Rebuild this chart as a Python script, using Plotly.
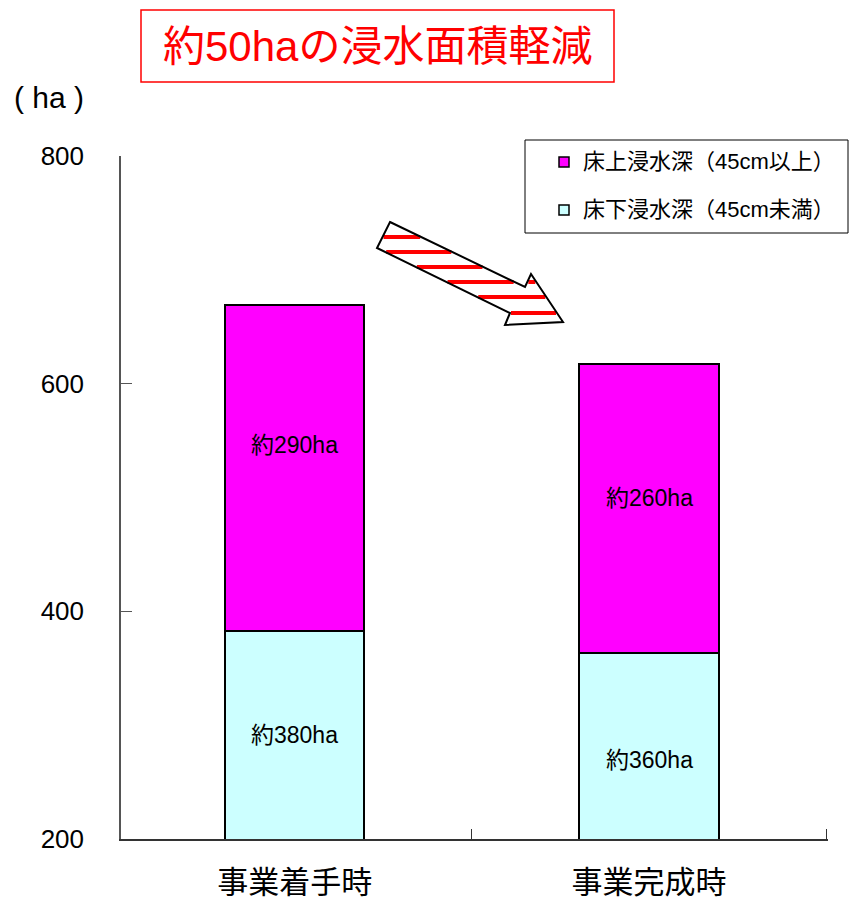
import plotly.graph_objects as go

# ---- data ----
categories = ["事業着手時", "事業完成時"]
lower_name = "床下浸水深（45cm未満）"
upper_name = "床上浸水深（45cm以上）"
lower_values = [383, 363]   # 床下浸水深
upper_values = [286, 254]   # 床上浸水深
lower_labels = ["約380ha", "約360ha"]
upper_labels = ["約290ha", "約260ha"]
y_ticks = [200, 400, 600, 800]
title_text = "約50haの浸水面積軽減"
unit_text = "( ha )"

# label nudges (pixels)
upper_label_shift = [23, 11]
lower_label_shift = [0, -14]

# ---- layout geometry (pixels) ----
W, H = 849, 902
ML, MR, MT, MB = 121, 21, 156, 63
PW, PH = W - ML - MR, H - MT - MB
Y0, Y1 = 200, 800


def px(x):
    return (x - ML) / PW


def py(y):
    return (H - MB - y) / PH


FONT = "Liberation Sans, Arial, Noto Sans CJK JP, sans-serif"
MAGENTA = "#FF00FF"
CYAN = "#CCFFFF"

fig = go.Figure()
fig.add_trace(go.Bar(
    x=categories, y=lower_values, name=lower_name, width=0.394,
    marker=dict(color=CYAN, line=dict(color="black", width=2)),
    showlegend=False, hoverinfo="skip",
))
fig.add_trace(go.Bar(
    x=categories, y=upper_values, name=upper_name, width=0.394,
    marker=dict(color=MAGENTA, line=dict(color="black", width=2)),
    showlegend=False, hoverinfo="skip",
))

shapes = []
annotations = []

# segment labels, centred in the visible part of each segment
for i, cat in enumerate(categories):
    lo, hi = max(Y0, 0), lower_values[i]
    annotations.append(dict(x=cat, y=(lo + hi) / 2, xref="x", yref="y",
                            text=lower_labels[i], showarrow=False,
                            yshift=lower_label_shift[i],
                            font=dict(size=23, color="black", family=FONT)))
    lo2, hi2 = lower_values[i], lower_values[i] + upper_values[i]
    annotations.append(dict(x=cat, y=(lo2 + hi2) / 2, xref="x", yref="y",
                            text=upper_labels[i], showarrow=False,
                            yshift=upper_label_shift[i],
                            font=dict(size=23, color="black", family=FONT)))

# title box
shapes.append(dict(type="rect", xref="paper", yref="paper",
                   x0=px(141), x1=px(614), y0=py(82), y1=py(10),
                   line=dict(color="red", width=1.5), fillcolor="white"))
annotations.append(dict(xref="paper", yref="paper", x=px(377), y=py(47),
                        text=title_text, showarrow=False,
                        font=dict(size=42, color="red", family=FONT),
                        xanchor="center", yanchor="middle"))

# unit label
annotations.append(dict(xref="paper", yref="paper", x=px(49), y=py(97),
                        text=unit_text, showarrow=False,
                        font=dict(size=30, color="black", family=FONT),
                        xanchor="center", yanchor="middle"))

# legend (manual)
shapes.append(dict(type="rect", xref="paper", yref="paper",
                   x0=px(525), x1=px(848), y0=py(233), y1=py(140),
                   line=dict(color="black", width=1), fillcolor="white"))
for yc, col, name in [(162, MAGENTA, upper_name), (210, CYAN, lower_name)]:
    shapes.append(dict(type="rect", xref="paper", yref="paper",
                       x0=px(559), x1=px(569), y0=py(yc + 5), y1=py(yc - 5),
                       line=dict(color="black", width=1.5), fillcolor=col))
    annotations.append(dict(xref="paper", yref="paper", x=px(581), y=py(yc),
                            text=name, showarrow=False,
                            font=dict(size=22, color="black", family=FONT),
                            xanchor="left", yanchor="middle"))

# decorative striped arrow
arrow = [(390, 222), (525, 287), (531, 274), (563, 322),
         (505, 325), (510, 313), (377, 248)]


def scan(yv):
    xs = []
    n = len(arrow)
    for i in range(n):
        (x1, y1), (x2, y2) = arrow[i], arrow[(i + 1) % n]
        if (y1 <= yv < y2) or (y2 <= yv < y1):
            xs.append(x1 + (yv - y1) * (x2 - x1) / (y2 - y1))
    xs.sort()
    return [(xs[i], xs[i + 1]) for i in range(0, len(xs) - 1, 2)]


path = "M " + " L ".join(f"{px(x)},{py(y)}" for x, y in arrow) + " Z"
shapes.append(dict(type="path", xref="paper", yref="paper", path=path,
                   fillcolor="white", line=dict(color="white", width=0)))
for yv in [237, 252, 267, 282, 297, 313]:
    for a, b in scan(yv):
        shapes.append(dict(type="line", xref="paper", yref="paper",
                           x0=px(a + 1), x1=px(b - 1), y0=py(yv), y1=py(yv),
                           line=dict(color="red", width=4)))
shapes.append(dict(type="path", xref="paper", yref="paper", path=path,
                   fillcolor="rgba(0,0,0,0)", line=dict(color="black", width=2)))

fig.update_layout(
    width=W, height=H,
    margin=dict(l=ML, r=MR, t=MT, b=MB, pad=0, autoexpand=False),
    barmode="stack",
    plot_bgcolor="white", paper_bgcolor="white",
    showlegend=False,
    shapes=shapes, annotations=annotations,
    font=dict(family=FONT, color="black"),
    xaxis=dict(
        automargin=False, range=[-0.49, 1.505],
        showline=True, linecolor="#333333", linewidth=1.5,
        ticks="inside", tickson="boundaries", ticklen=10, tickcolor="#333333",
        tickfont=dict(size=31, family="Noto Sans CJK JP, sans-serif", color="black"),
        showgrid=False, ticklabelstandoff=15,
    ),
    yaxis=dict(
        automargin=False,
        range=[Y0, Y1], tickvals=y_ticks,
        showline=True, linecolor="#555555", linewidth=1.5,
        ticks="inside", ticklen=11, tickcolor="#555555",
        tickfont=dict(size=26, family=FONT, color="black"),
        showgrid=False, zeroline=False, ticklabelstandoff=30,
    ),
)

fig.write_html("out.html")
